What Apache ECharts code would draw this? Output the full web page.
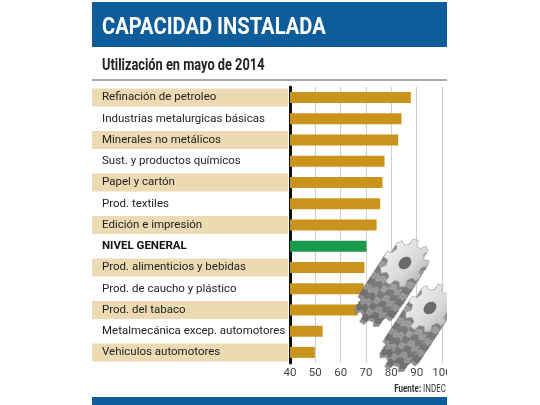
<!DOCTYPE html>
<html>
<head>
<meta charset="utf-8">
<script src="https://cdn.jsdelivr.net/npm/echarts@6/dist/echarts.min.js"></script>
<style>
html,body{margin:0;padding:0;background:#fff;}
#c{width:540px;height:405px;}
</style>
</head>
<body>
<div id="c"></div>
<script>
const categories = [
  "Refinación de petroleo",
  "Industrias metalurgicas básicas",
  "Minerales no metálicos",
  "Sust. y productos químicos",
  "Papel y cartón",
  "Prod. textiles",
  "Edición e impresión",
  "NIVEL GENERAL",
  "Prod. alimenticios y bebidas",
  "Prod. de caucho y plástico",
  "Prod. del tabaco",
  "Metalmecánica excep. automotores",
  "Vehiculos automotores"
];
const values = [87.7, 84.0, 82.7, 77.3, 76.5, 75.6, 74.2, 70.2, 69.4, 69.1, 66.8, 52.9, 49.8];
const highlight = "NIVEL GENERAL";
const xMin = 40, xMax = 100, xStep = 10;

const FONT = "Roboto,'Liberation Sans',sans-serif";
const BLUE = '#0e5c99';
const GOLD = '#c9931c';
const GREEN = '#1a9a4a';
const BEIGE = '#ecdab3';

function gearPts(cx, cy, rIn, rOut, n, squash, rot) {
  const pts = [];
  const step = 2 * Math.PI / n;
  for (let i = 0; i < n; i++) {
    for (const [r, f] of [[rIn, 0], [rOut, 0.12], [rOut, 0.48], [rIn, 0.6]]) {
      const a = i * step + f * step;
      const x = r * Math.cos(a), y = r * Math.sin(a) * squash;
      pts.push([cx + x * Math.cos(rot) - y * Math.sin(rot), cy + x * Math.sin(rot) + y * Math.cos(rot)]);
    }
  }
  return pts;
}
function gearGraphics(cx, cy, rIn, rOut, dx, dy) {
  const out = [];
  const K = 14;
  const rot = -0.75, squash = 0.78;
  for (let k = K; k >= 1; k--) {
    const t = k / K;
    const shade = (k % 4 < 2) ? 110 : 145;
    const g = Math.round(shade + (1 - t) * 20);
    out.push({
      type: 'polygon', z: 50,
      shape: { points: gearPts(cx + dx * t, cy + dy * t, rIn, rOut, 9, squash, rot) },
      style: { fill: 'rgb(' + g + ',' + g + ',' + g + ')', stroke: '#777', lineWidth: 0.3 }
    });
  }
  out.push({
    type: 'polygon', z: 51,
    shape: { points: gearPts(cx, cy, rIn, rOut, 9, squash, rot) },
    style: {
      fill: new echarts.graphic.LinearGradient(0, 0, 1, 1, [
        { offset: 0, color: '#f6f6f6' }, { offset: 0.6, color: '#d8d8d8' }, { offset: 1, color: '#a0a0a0' }
      ]),
      stroke: '#999', lineWidth: 0.6
    }
  });
  out.push({
    type: 'ellipse', z: 52,
    shape: { cx: cx, cy: cy, rx: 7, ry: 5.5 },
    rotation: 0.75, originX: cx, originY: cy,
    style: { fill: '#6a6a6a' }
  });
  return out;
}

const chart = echarts.init(document.getElementById('c'), null, { renderer: 'canvas' });

const graphics = [
  { type: 'rect', z: 10, shape: { x: 92, y: 2, width: 355, height: 45 }, style: { fill: BLUE } },
  { type: 'text', z: 11, x: 102, y: 28, scaleX: 0.84,
    style: { x: 0, y: 0, text: 'CAPACIDAD INSTALADA', fill: '#fff',
      font: 'bold 24px ' + FONT, verticalAlign: 'middle' } },
  { type: 'text', z: 11, x: 102, y: 66, scaleX: 0.8,
    style: { x: 0, y: 0, text: 'Utilización en mayo de 2014', fill: '#222',
      font: 'bold 16px ' + FONT, verticalAlign: 'middle' } },
  { type: 'rect', z: 10, shape: { x: 92, y: 79, width: 355, height: 2 }, style: { fill: '#a9a9a9' } },
  { type: 'text', z: 11, x: 446, y: 389, scaleX: 0.8,
    style: { x: 0, y: 0, text: '{b|Fuente:} INDEC', align: 'right', verticalAlign: 'middle',
      fill: '#333', font: '10px ' + FONT,
      rich: { b: { fontWeight: 'bold', fontSize: 10, fontFamily: FONT, fill: '#333' } } } },
  { type: 'rect', z: 10, shape: { x: 92, y: 397, width: 355, height: 8 }, style: { fill: BLUE } }
].concat(gearGraphics(405, 263, 21, 27, -26, 40))
 .concat(gearGraphics(430, 308, 21, 27, -26, 40))
 .concat([
  { type: 'rect', z: 100, shape: { x: 447, y: 0, width: 93, height: 405 }, style: { fill: '#fff' } }
 ]);

chart.setOption({
  animation: false,
  backgroundColor: '#fff',
  grid: { left: 290, right: 98, top: 87, bottom: 42, containLabel: false },
  xAxis: {
    type: 'value', min: xMin, max: xMax, interval: xStep,
    axisLine: { show: false }, axisTick: { show: false },
    axisLabel: { color: '#444', fontFamily: FONT, fontSize: 11.5, margin: 4 },
    splitLine: { show: true, lineStyle: { color: '#cfcfcf', width: 1 } }
  },
  yAxis: {
    type: 'category', data: categories, inverse: true,
    axisLine: { show: true, lineStyle: { color: '#111', width: 3 } },
    axisTick: { show: false },
    splitLine: { show: false },
    axisLabel: {
      align: 'left', margin: 198, interval: 0,
      formatter: function (v, i) {
        if (v === highlight) return '{n|' + v + '}';
        return (i % 2 === 0 ? '{a|' : '{w|') + v + '}';
      },
      rich: {
        a: { backgroundColor: BEIGE, width: 186, height: 18, padding: [0, 0, 0, 10], fontSize: 11.5, fontFamily: FONT, color: '#222' },
        w: { width: 186, height: 18, padding: [0, 0, 0, 10], fontSize: 11.5, fontFamily: FONT, color: '#222' },
        n: { width: 186, height: 18, padding: [0, 0, 0, 10], fontSize: 11.5, fontFamily: FONT, color: '#111', fontWeight: 'bold' }
      }
    }
  },
  series: [{
    type: 'bar',
    data: values.map((v, i) => ({ value: v, itemStyle: { color: categories[i] === highlight ? GREEN : GOLD } })),
    barWidth: 11,
    z: 5
  }],
  graphic: { elements: graphics }
});
</script>
</body>
</html>
